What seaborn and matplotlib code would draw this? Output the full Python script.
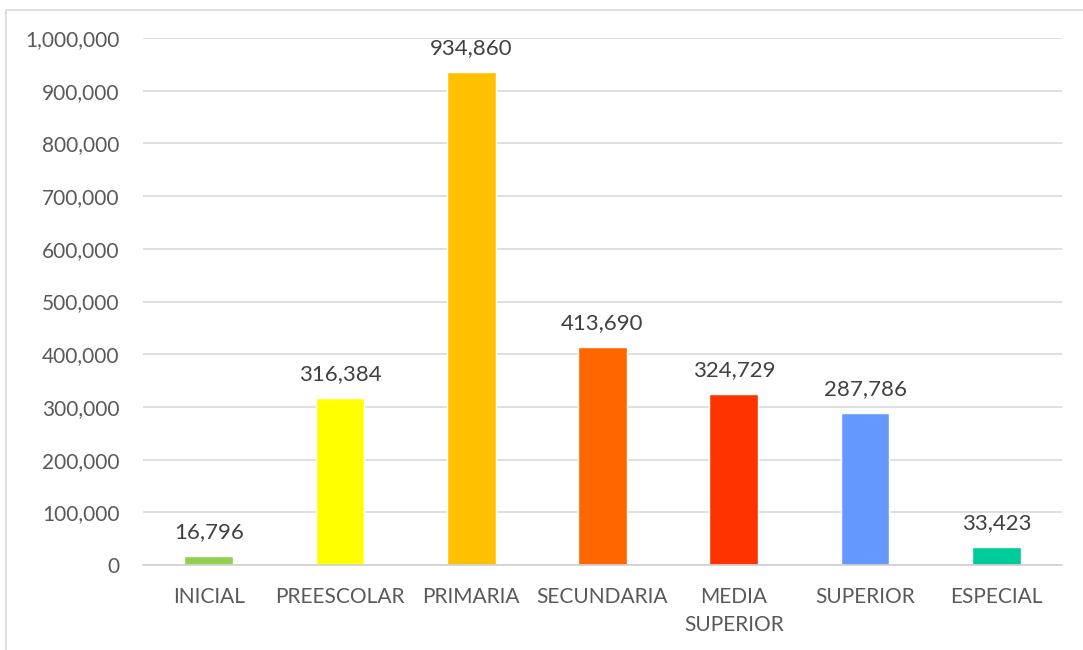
import matplotlib
matplotlib.use("Agg")
import matplotlib.pyplot as plt
from matplotlib.patches import Rectangle
from matplotlib.ticker import FuncFormatter, FixedLocator
import seaborn as sns
import pandas as pd

# datos
niveles = ["INICIAL", "PREESCOLAR", "PRIMARIA", "SECUNDARIA", "MEDIA\nSUPERIOR", "SUPERIOR", "ESPECIAL"]
alumnos = [16796, 316384, 934860, 413690, 324729, 287786, 33423]
colores = ["#92D050", "#FFFF00", "#FFC000", "#FF6600", "#FF3300", "#6699FF", "#00CC99"]

df = pd.DataFrame({"nivel": niveles, "alumnos": alumnos})

sns.set_theme(style="white")
plt.rcParams["font.family"] = ["Lato", "DejaVu Sans"]

fig = plt.figure(figsize=(10.83, 6.5), dpi=100)
ax = fig.add_axes([143 / 1083, 85 / 650, (1062 - 143) / 1083, (565 - 38) / 650])

sns.barplot(data=df, x="nivel", y="alumnos", hue="nivel", palette=colores,
            legend=False, width=0.37, saturation=1, ax=ax)

texto = "#595959"
ax.set_ylim(0, 1000000)
ax.set_xlim(-0.5, len(niveles) - 0.5)
ax.set_yticks(range(0, 1000001, 100000))
ax.yaxis.set_major_formatter(FuncFormatter(lambda v, p: f"{v:,.0f}"))
ax.grid(axis="y", color="#D9D9D9", linewidth=1.2)
ax.set_axisbelow(True)
ax.set_xlabel("")
ax.set_ylabel("")

for lado in ["top", "right", "left"]:
    ax.spines[lado].set_visible(False)
ax.spines["bottom"].set_color("#D0D0D0")
ax.spines["bottom"].set_linewidth(1.2)

ax.tick_params(axis="y", length=0, labelsize=15, labelcolor=texto, pad=17)
ax.tick_params(axis="x", length=0, labelsize=15, labelcolor=texto, pad=16)
ax.xaxis.set_minor_locator(FixedLocator([i - 0.5 for i in range(len(niveles) + 1)]))
ax.tick_params(axis="x", which="minor", length=5, width=1.2, color="#D0D0D0")
for etiqueta in ax.get_xticklabels():
    etiqueta.set_linespacing(1.5)
    etiqueta.set_verticalalignment("top")

for cont in ax.containers:
    ax.bar_label(cont, fmt="{:,.0f}", padding=10, fontsize=16, color="#404040")

fig.patches.append(Rectangle((6 / 1083, -0.1), 1.2, (640 / 650) + 0.1,
                             transform=fig.transFigure, fill=False,
                             edgecolor="#D9D9D9", linewidth=1.2))

fig.savefig("out.png", dpi=100)
